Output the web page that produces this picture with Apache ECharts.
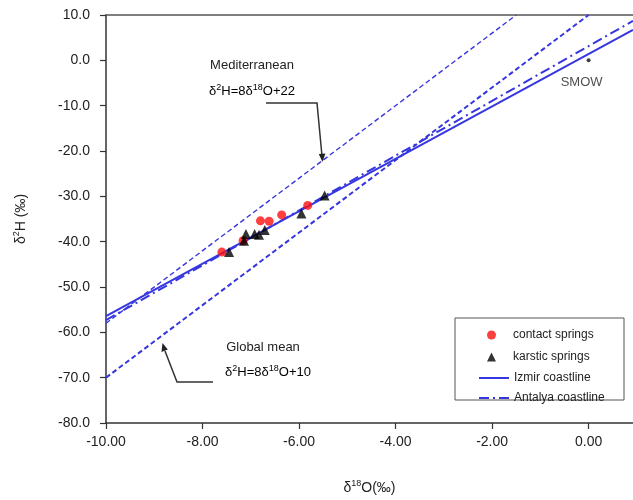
<!DOCTYPE html>
<html><head><meta charset="utf-8">
<script src="https://cdn.jsdelivr.net/npm/echarts@6/dist/echarts.min.js"></script>
<style>html,body{margin:0;padding:0;background:#fff}#c{width:633px;height:500px}</style>
</head><body><div id="c"></div>
<script>
// ---- data ----
const contactO = [-7.60, -7.16, -6.80, -6.62, -6.36, -5.82];
const contactH = [-42.3, -39.8, -35.4, -35.5, -34.1, -32.0];
const karsticO = [-7.45, -7.14, -7.10, -6.92, -6.83, -6.71, -5.95, -5.47];
const karsticH = [-42.3, -39.8, -38.3, -38.3, -38.5, -37.4, -33.8, -29.8];
const smowO = [0.0];
const smowH = [0.0];
// reference/regression line end points (δ18O, δ2H)
const medLineO = [-10, -1.5];
const medLineH = [-58, 10];
const globalLineO = [-10, 0];
const globalLineH = [-70, 10];
const izmirLineO = [-10, 0.92];
const izmirLineH = [-56.4, 6.7];
const antalyaLineO = [-10, 0.92];
const antalyaLineH = [-57.3, 8.7];
// axis ticks
const xTicks = [-10, -8, -6, -4, -2, 0];
const yTicks = [-80, -70, -60, -50, -40, -30, -20, -10, 0, 10];
const xMin = -10, xMax = 0.92, xStep = 2;
const yMin = -80, yMax = 10, yStep = 10;

const zip = (a, b) => a.map((v, i) => [v, b[i]]);
const FONT = 'Liberation Sans, Arial, sans-serif';
const BLUE = '#3636e0';

const chart = echarts.init(document.getElementById('c'));
const sup = {fontSize: 9, verticalAlign: 'top', lineHeight: 16, fontFamily: FONT, color: '#222'};
const nrm = {fontSize: 13, lineHeight: 16, fontFamily: FONT, color: '#222'};

chart.setOption({
  animation: false,
  backgroundColor: '#fff',
  grid: {left: 106, right: 0, top: 15, bottom: 75},
  xAxis: [{
    type: 'value', min: xMin, max: xMax, interval: xStep, position: 'bottom',
    splitLine: {show: false},
    axisLine: {onZero: false, lineStyle: {color: '#333', width: 1.5}},
    axisTick: {length: 6, customValues: xTicks, lineStyle: {color: '#333', width: 1.2}},
    axisLabel: {color: '#222', fontSize: 14, fontFamily: FONT, margin: 12, customValues: xTicks,
      formatter: v => v.toFixed(2)},
    name: '{n|δ}{s|18}{n|O(‰)}', nameLocation: 'middle', nameGap: 56,
    nameTextStyle: {rich: {n: {fontSize: 14, fontFamily: FONT, color: '#222', lineHeight: 18},
                           s: {fontSize: 9, fontFamily: FONT, color: '#222', verticalAlign: 'top', lineHeight: 18}}}
  }, {
    type: 'value', position: 'top', min: xMin, max: xMax,
    axisLine: {show: true, onZero: false, lineStyle: {color: '#555', width: 1.5}},
    axisTick: {show: false}, axisLabel: {show: false}, splitLine: {show: false}
  }],
  yAxis: {
    type: 'value', min: yMin, max: yMax, interval: yStep,
    splitLine: {show: false},
    axisLine: {show: true, onZero: false, lineStyle: {color: '#333', width: 1.5}},
    axisTick: {show: true, length: 6, customValues: yTicks, lineStyle: {color: '#333', width: 1.2}},
    axisLabel: {color: '#222', fontSize: 14, fontFamily: FONT, margin: 16, customValues: yTicks, formatter: v => v.toFixed(1)},
    name: '{n|δ}{s|2}{n|H (‰)}', nameLocation: 'middle', nameGap: 76, nameRotate: 90,
    nameTextStyle: {rich: {n: {fontSize: 14, fontFamily: FONT, color: '#222', lineHeight: 18},
                           s: {fontSize: 9, fontFamily: FONT, color: '#222', verticalAlign: 'top', lineHeight: 18}}}
  },
  legend: [{
    data: ['contact springs', 'karstic springs'],
    orient: 'vertical', left: 482, top: 323, itemWidth: 9, itemHeight: 9, itemGap: 8,
    symbolKeepAspect: true,
    textStyle: {fontSize: 12, fontFamily: FONT, color: '#222', lineHeight: 14, padding: [0, 0, 0, 12]}
  }, {
    data: [{name: 'Izmir coastline', itemStyle: {opacity: 0}},
           {name: 'Antalya coastline', itemStyle: {opacity: 0}}],
    orient: 'vertical', left: 473, top: 366, itemWidth: 30, itemHeight: 12, itemGap: 6,
    textStyle: {fontSize: 12, fontFamily: FONT, color: '#222', lineHeight: 14}
  }],
  series: [
    {name: 'Mediterranean', type: 'line', data: zip(medLineO, medLineH), showSymbol: false, symbol: 'none',
     lineStyle: {color: BLUE, width: 1.4, type: [5, 3]}, z: 2},
    {name: 'Global mean', type: 'line', data: zip(globalLineO, globalLineH), showSymbol: false, symbol: 'none',
     lineStyle: {color: BLUE, width: 2, type: [5, 3]}, z: 2},
    {name: 'Izmir coastline', type: 'line', data: zip(izmirLineO, izmirLineH), showSymbol: false, symbol: 'none',
     itemStyle: {color: BLUE}, lineStyle: {color: BLUE, width: 2}, z: 2},
    {name: 'Antalya coastline', type: 'line', data: zip(antalyaLineO, antalyaLineH), showSymbol: false, symbol: 'none',
     itemStyle: {color: BLUE}, lineStyle: {color: BLUE, width: 2, type: [10, 4, 2, 4]}, z: 2},
    {name: 'contact springs', type: 'scatter', data: zip(contactO, contactH), symbol: 'circle', symbolSize: 9,
     itemStyle: {color: '#ff1010'}, z: 4},
    {name: 'karstic springs', type: 'scatter', data: zip(karsticO, karsticH), symbol: 'triangle', symbolSize: 10,
     itemStyle: {color: '#000'}, z: 5},
    {name: 'SMOW', type: 'scatter', data: zip(smowO, smowH), symbol: 'circle', symbolSize: 4,
     itemStyle: {color: '#111'},
     label: {show: true, position: 'bottom', distance: 14, offset: [-7, 0], formatter: 'SMOW',
             fontSize: 13, fontFamily: FONT, color: '#222'}, z: 5}
  ],
  graphic: [
    {type: 'rect', shape: {x: 455, y: 318, width: 169, height: 82}, z: 3,
     style: {fill: '#fff', stroke: '#555', lineWidth: 1}},
    {type: 'text', x: 252, y: 65, z: 6, style: {text: 'Mediterranean', fontSize: 13, fontFamily: FONT, fill: '#222', align: 'center', verticalAlign: 'middle'}},
    {type: 'text', x: 252, y: 91, z: 6, style: {text: '{n|δ}{s|2}{n|H=8δ}{s|18}{n|O+22}', align: 'center', verticalAlign: 'middle', rich: {n: nrm, s: sup}}},
    {type: 'polyline', z: 6, shape: {points: [[266, 103], [317, 103], [322, 156]]}, style: {stroke: '#333', lineWidth: 1.5, fill: null}},
    {type: 'polygon', z: 6, shape: {points: [[322.4, 162], [318.8, 154], [325.4, 153.6]]}, style: {fill: '#222'}},
    {type: 'text', x: 263, y: 347, z: 6, style: {text: 'Global mean', fontSize: 13, fontFamily: FONT, fill: '#222', align: 'center', verticalAlign: 'middle'}},
    {type: 'text', x: 268, y: 372, z: 6, style: {text: '{n|δ}{s|2}{n|H=8δ}{s|18}{n|O+10}', align: 'center', verticalAlign: 'middle', rich: {n: nrm, s: sup}}},
    {type: 'polyline', z: 6, shape: {points: [[213, 382], [177, 382], [165, 351]]}, style: {stroke: '#333', lineWidth: 1.5, fill: null}},
    {type: 'polygon', z: 6, shape: {points: [[162.5, 343], [161.5, 352], [167.8, 349.6]]}, style: {fill: '#222'}}
  ]
});
</script></body></html>
